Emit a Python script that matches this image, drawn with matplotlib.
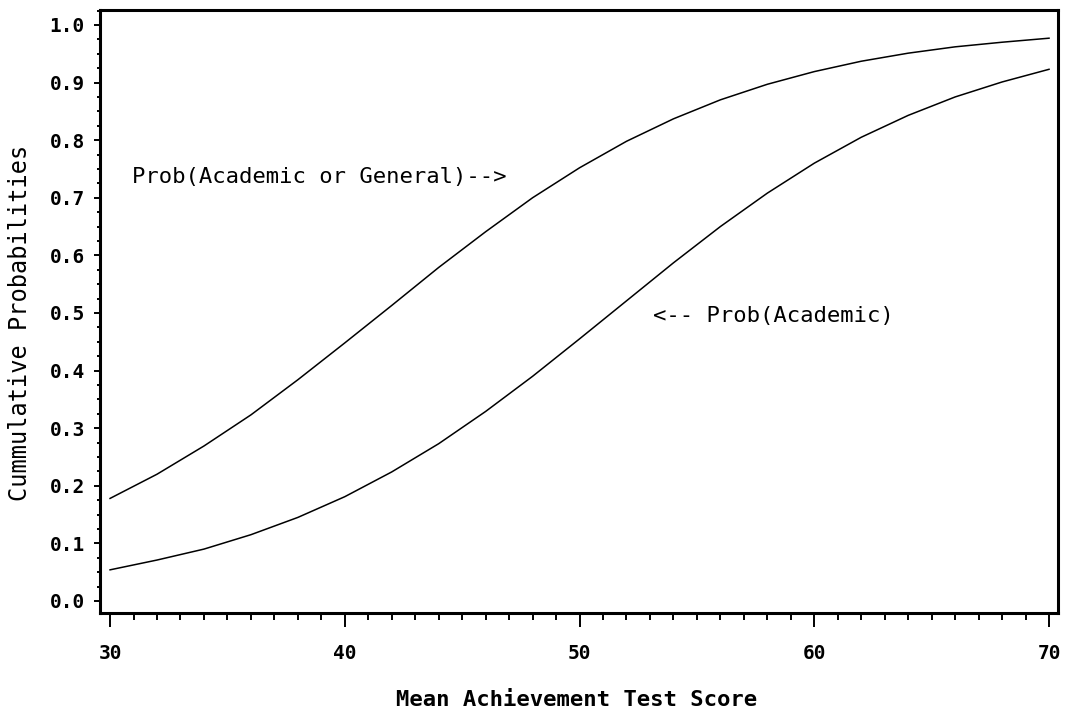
import numpy as np
import matplotlib.pyplot as plt
from matplotlib.ticker import MultipleLocator

# valores (puntaje cada 2 unidades)
puntaje = [30, 32, 34, 36, 38, 40, 42, 44, 46, 48, 50,
           52, 54, 56, 58, 60, 62, 64, 66, 68, 70]
prob_acad_gen = [0.178, 0.220, 0.269, 0.323, 0.384, 0.448, 0.513, 0.579, 0.641, 0.700, 0.752,
                 0.798, 0.837, 0.870, 0.897, 0.919, 0.937, 0.951, 0.962, 0.970, 0.977]
prob_acad = [0.054, 0.071, 0.090, 0.115, 0.145, 0.181, 0.224, 0.273, 0.329, 0.390, 0.455,
             0.521, 0.587, 0.650, 0.708, 0.760, 0.805, 0.843, 0.875, 0.901, 0.923]

x_ticks = [30, 40, 50, 60, 70]
y_ticks = [0.0, 0.1, 0.2, 0.3, 0.4, 0.5, 0.6, 0.7, 0.8, 0.9, 1.0]

MONO = 'DejaVu Sans Mono'

fig = plt.figure(figsize=(10.68, 7.12), dpi=100)
ax = fig.add_axes([0.0936, 0.139, 0.897, 0.847])

ax.plot(puntaje, prob_acad_gen, color='black', lw=1.1)
ax.plot(puntaje, prob_acad, color='black', lw=1.1)

ax.set_xlim(29.57, 70.38)
ax.set_ylim(-0.021, 1.026)

ax.set_xticks(x_ticks)
ax.set_yticks(y_ticks)
ax.set_yticklabels([f"{v:.1f}" for v in y_ticks])
ax.xaxis.set_minor_locator(MultipleLocator(1))
ax.yaxis.set_minor_locator(MultipleLocator(0.025))

for s in ax.spines.values():
    s.set_linewidth(2.2)

ax.tick_params(axis='x', which='major', direction='out', length=10, width=1.4, pad=12)
ax.tick_params(axis='x', which='minor', direction='out', length=5, width=1.4)
ax.tick_params(axis='y', which='major', direction='out', length=4, width=1.4, pad=7)
ax.tick_params(axis='y', which='minor', direction='out', length=2.5, width=1.4)
for lab in ax.get_xticklabels() + ax.get_yticklabels():
    lab.set_family(MONO)
    lab.set_fontweight('bold')
    lab.set_fontsize(14)

# etiquetas de ejes
fig.text(0.540, 0.017, "Mean Achievement Test Score", family=MONO, fontweight='bold',
         fontsize=16, ha='center', va='center')
fig.text(0.019, 0.546, "Cummulative Probabilities", family=MONO, fontsize=17,
         rotation=90, ha='center', va='center')

ax.text(30.94, 0.736, "Prob(Academic or General)-->", family=MONO, fontsize=16,
        ha='left', va='center')
ax.text(53.13, 0.494, "<-- Prob(Academic)", family=MONO, fontsize=16,
        ha='left', va='center')

fig.savefig("out.png", dpi=100)
